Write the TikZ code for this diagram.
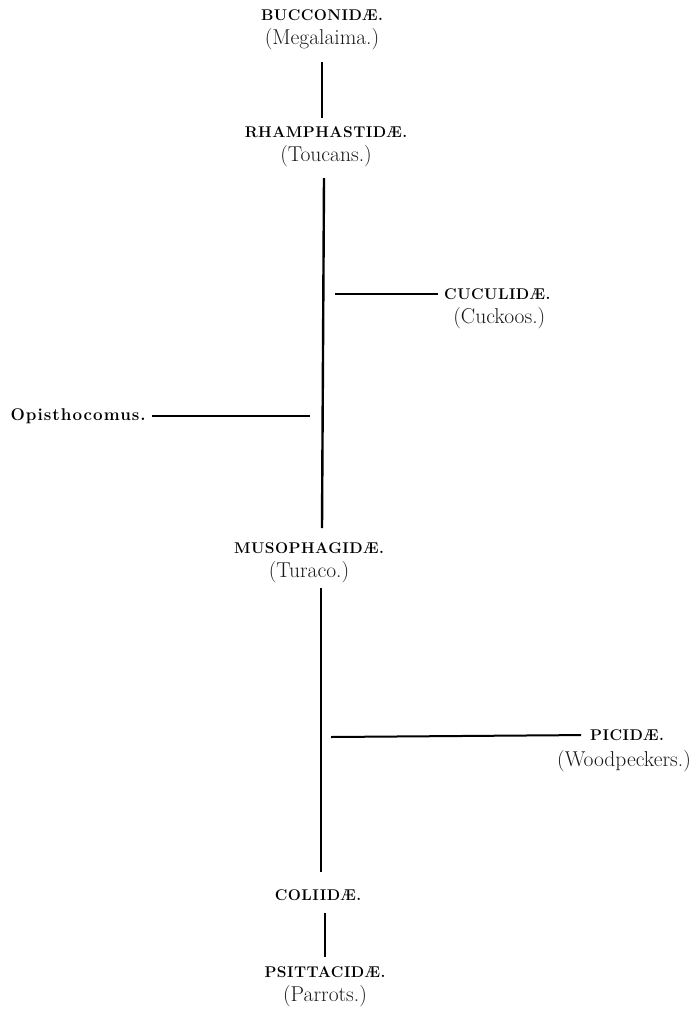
\documentclass[tikz,border=0pt]{standalone}
\usepackage{fontspec}
\setmainfont{Latin Modern Roman}
\newfontfamily\famfont[LetterSpace=3]{Latin Modern Roman}
\newfontfamily\genfont[LetterSpace=6]{Latin Modern Roman}
\usetikzlibrary{positioning}

\begin{document}
\begin{tikzpicture}[x=1pt,y=-1pt,
    fam/.style={font=\famfont\bfseries\fontsize{15.5}{17}\selectfont, inner sep=0pt},
    genus/.style={font=\genfont\bfseries\fontsize{17}{19}\selectfont, inner sep=0pt},
    vern/.style={font=\fontsize{21.5}{23}\selectfont, text=black!90, inner sep=0pt},
    stem/.style={line width=2.4pt},
    twig/.style={line width=2pt}]
    \useasboundingbox (0,0) rectangle (691,1012);
    % family names with common names below
    \node[fam] (bucc) at (322,15) {BUCCONIDÆ.};
    \node[vern, below=7pt of bucc] (megal) {(Megalaima.)};
    \node[fam] (rham) at (326,132) {RHAMPHASTIDÆ.};
    \node[vern, below=7pt of rham] (touc) {(Toucans.)};
    \node[fam, anchor=west] (cucu) at (444,294) {CUCULIDÆ.};
    \node[vern, below=7pt of cucu.south, anchor=north, xshift=2pt] (cuck) {(Cuckoos.)};
    \node[genus, anchor=east] (opis) at (146,416) {Opisthocomus.};
    \node[fam] (muso) at (309,548) {MUSOPHAGIDÆ.};
    \node[vern, below=7pt of muso] (tura) {(Turaco.)};
    \node[fam, anchor=west] (pici) at (590,735) {PICIDÆ.};
    \node[vern, anchor=north] (wood) at (624,750) {(Woodpeckers.)};
    \node[fam] (coli) at (318,895) {COLIIDÆ.};
    \node[fam] (psit) at (325,972) {PSITTACIDÆ.};
    \node[vern, below=7pt of psit] (parr) {(Parrots.)};
    % stems
    \coordinate (s1a) at (322,62);
    \coordinate (s2a) at (324,178);
    \coordinate (s2b) at (322,528);
    \coordinate (s3a) at (321,588);
    \coordinate (s3b) at (321,872);
    \coordinate (s4a) at (325,913);
    \draw[stem, shorten >=8pt] (s1a) -- (s1a |- rham.north);
    \draw[stem] (s2a) -- (s2b);
    \draw[stem] (s3a) -- (s3b);
    \draw[stem, shorten >=9pt] (s4a) -- (s4a |- psit.north);
    % branches
    \coordinate (jcuc) at (335,294);
    \coordinate (jopi) at (310,416);
    \coordinate (jpic) at (331,737);
    \draw[twig, shorten >=6pt] (jcuc) -- (cucu.west);
    \draw[twig, shorten <=6pt] (opis.east) -- (jopi);
    \draw[twig, shorten >=9pt] (jpic) -- (pici.west);
\end{tikzpicture}
\end{document}
